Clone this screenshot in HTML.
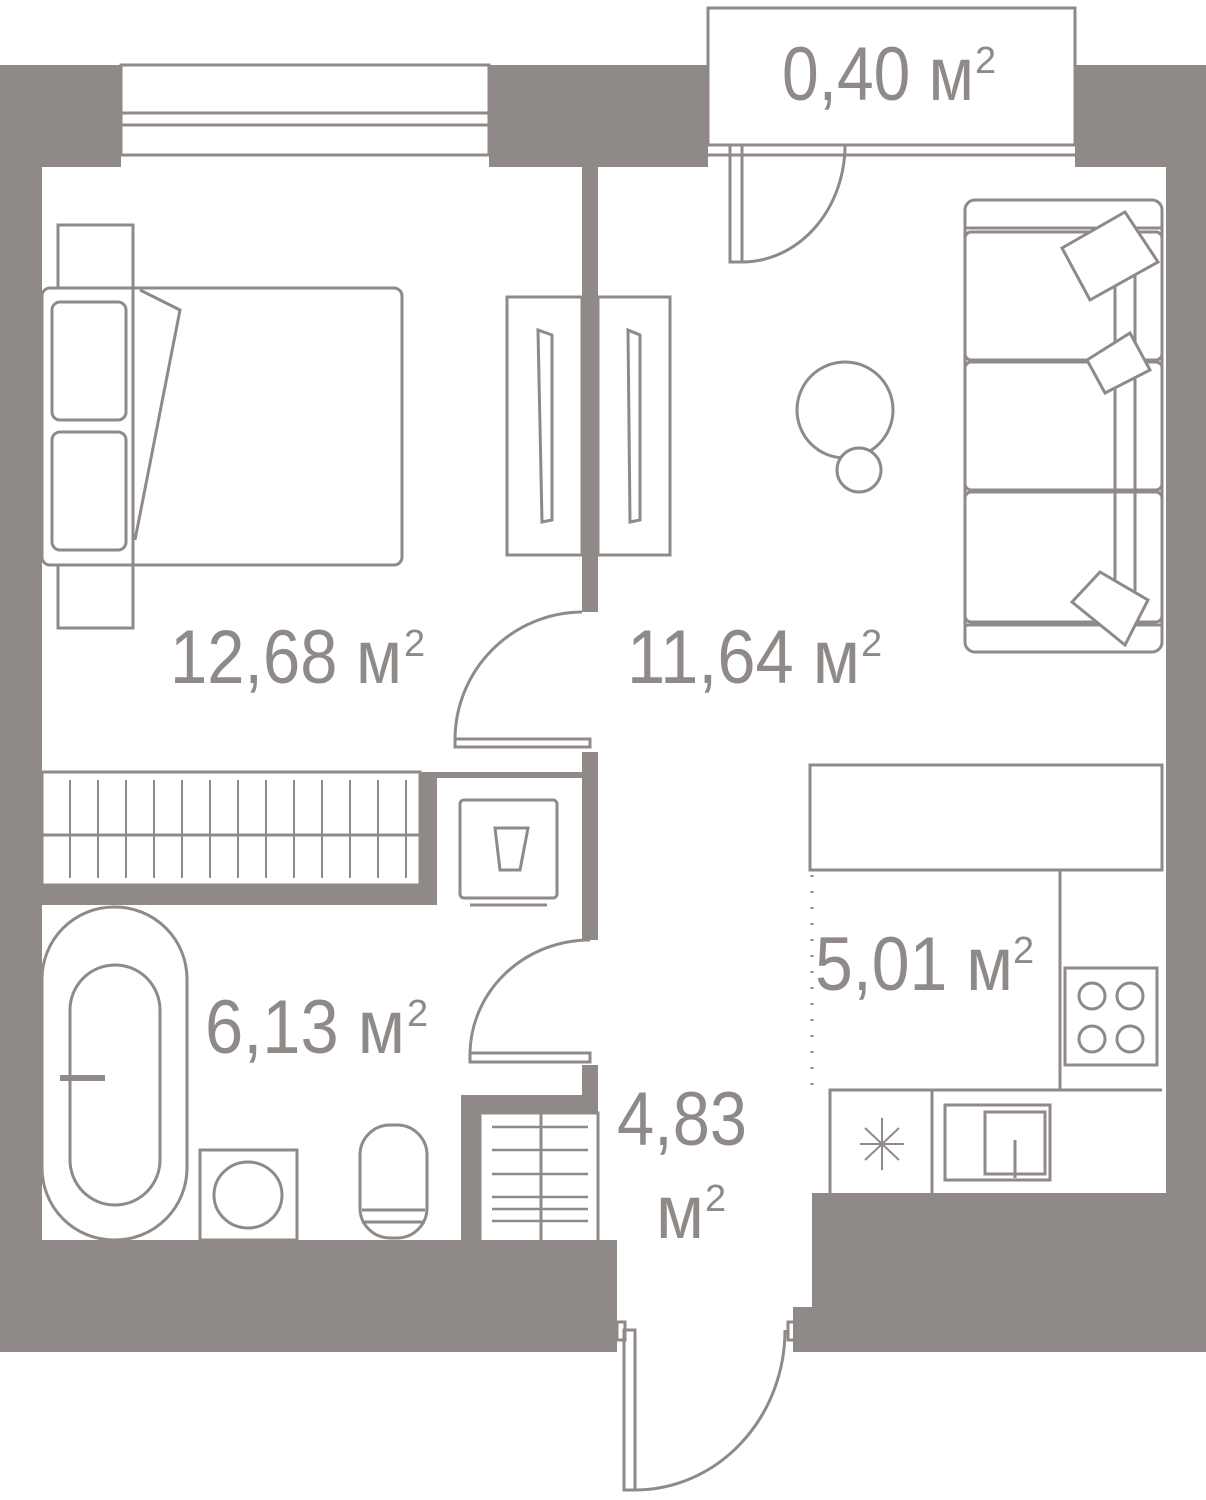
<!DOCTYPE html>
<html><head><meta charset="utf-8"><style>
html,body{margin:0;padding:0;background:#fff}
svg{display:block}
text{font-family:"Liberation Sans",sans-serif;fill:#8f8a87}
</style></head><body>
<svg width="1206" height="1500" viewBox="0 0 1206 1500" xmlns="http://www.w3.org/2000/svg">
<g fill="#8f8a87">
<rect x="0" y="65" width="121" height="102"/>
<rect x="0" y="65" width="42" height="1287"/>
<rect x="489" y="65" width="219" height="102"/>
<rect x="1075" y="65" width="131" height="102"/>
<rect x="1166" y="65" width="40" height="1287"/>
<rect x="0" y="1240" width="617" height="112"/>
<rect x="461" y="1095" width="137" height="18"/>
<rect x="461" y="1095" width="19" height="160"/>
<rect x="480" y="1305" width="137" height="47"/>
<rect x="812" y="1193" width="394" height="159"/>
<rect x="793" y="1307" width="30" height="45"/>
<rect x="582" y="167" width="16" height="445"/>
<rect x="582" y="752" width="16" height="188"/>
<rect x="582" y="1065" width="16" height="30"/>
<rect x="420" y="772" width="162" height="6"/>
<rect x="420" y="772" width="17" height="133"/>
<rect x="42" y="885" width="395" height="20"/>
</g>
<g fill="none" stroke="#8f8a87" stroke-width="3">
<rect x="121" y="65" width="368" height="90"/>
<line x1="121" y1="113" x2="489" y2="113"/>
<line x1="121" y1="125" x2="489" y2="125"/>
<rect x="708" y="8" width="367" height="137"/>
<line x1="708" y1="155" x2="1075" y2="155"/>
<rect x="730" y="145" width="12" height="117"/>
<path d="M742 262 A103 117 0 0 0 845 145"/>
<rect x="58" y="225" width="75" height="403"/>
<rect x="42" y="288" width="360" height="277" rx="8" fill="#fff"/>
<rect x="52" y="302" width="74" height="118" rx="8"/>
<rect x="52" y="432" width="74" height="118" rx="8"/>
<line x1="133" y1="288" x2="133" y2="565"/>
<path d="M140 290 L180 310 L135 540"/>
<rect x="507" y="297" width="75" height="258"/>
<path d="M538 330 L552 335 L552 520 L542 522 Z"/>
<rect x="598" y="297" width="72" height="258"/>
<path d="M628 330 L640 335 L640 520 L630 522 Z"/>
<path d="M582 612 A128 128 0 0 0 455 740"/>
<rect x="455" y="739" width="135" height="8"/>
<rect x="42" y="772" width="378" height="113"/>
<line x1="42" y1="835" x2="420" y2="835"/>
<g stroke-width="2">
<line x1="70" y1="780" x2="70" y2="878"/><line x1="98" y1="780" x2="98" y2="878"/>
<line x1="126" y1="780" x2="126" y2="878"/><line x1="154" y1="780" x2="154" y2="878"/>
<line x1="182" y1="780" x2="182" y2="878"/><line x1="210" y1="780" x2="210" y2="878"/>
<line x1="238" y1="780" x2="238" y2="878"/><line x1="266" y1="780" x2="266" y2="878"/>
<line x1="294" y1="780" x2="294" y2="878"/><line x1="322" y1="780" x2="322" y2="878"/>
<line x1="350" y1="780" x2="350" y2="878"/><line x1="378" y1="780" x2="378" y2="878"/>
<line x1="406" y1="780" x2="406" y2="878"/>
</g>
<rect x="460" y="800" width="97" height="98" rx="4"/>
<line x1="470" y1="905" x2="547" y2="905"/>
<path d="M495 828 L528 828 L520 870 L500 870 Z"/>
<path d="M590 940 A120 115 0 0 0 470 1055"/>
<rect x="470" y="1053" width="120" height="9"/>
<rect x="42" y="907" width="145" height="333" rx="72"/>
<rect x="70" y="965" width="90" height="240" rx="45"/>
<line x1="60" y1="1078" x2="105" y2="1078" stroke-width="6"/>
<rect x="200" y="1150" width="97" height="90"/>
<ellipse cx="248" cy="1195" rx="34" ry="33"/>
<rect x="360" y="1125" width="67" height="113" rx="30"/>
<line x1="362" y1="1210" x2="425" y2="1210"/>
<line x1="362" y1="1222" x2="425" y2="1222"/>
<rect x="480" y="1113" width="118" height="192"/>
<line x1="541" y1="1113" x2="541" y2="1305"/>
<g stroke-width="2.5">
<line x1="492" y1="1127" x2="588" y2="1127"/><line x1="492" y1="1150" x2="588" y2="1150"/>
<line x1="492" y1="1174" x2="588" y2="1174"/><line x1="492" y1="1197" x2="588" y2="1197"/>
<line x1="492" y1="1209" x2="588" y2="1209"/><line x1="492" y1="1221" x2="588" y2="1221"/>
<line x1="492" y1="1245" x2="588" y2="1245"/><line x1="492" y1="1260" x2="588" y2="1260"/>
<line x1="492" y1="1283" x2="588" y2="1283"/><line x1="492" y1="1295" x2="588" y2="1295"/>
</g>
<rect x="617" y="1322" width="8" height="18"/>
<rect x="788" y="1322" width="8" height="18"/>
<rect x="624" y="1330" width="11" height="160"/>
<path d="M635 1490 A150 160 0 0 0 785 1330"/>
<rect x="965" y="200" width="197" height="452" rx="10"/>
<line x1="965" y1="228" x2="1162" y2="228"/>
<line x1="965" y1="625" x2="1162" y2="625"/>
<rect x="965" y="232" width="197" height="128" rx="6"/>
<rect x="965" y="362" width="197" height="128" rx="6"/>
<rect x="965" y="492" width="197" height="130" rx="6"/>
<line x1="1115" y1="232" x2="1115" y2="622"/>
<line x1="1135" y1="232" x2="1135" y2="622"/>
<path d="M1062 248 L1125 212 L1158 262 L1090 300 Z" fill="#fff"/>
<path d="M1087 360 L1130 333 L1150 370 L1105 393 Z" fill="#fff"/>
<path d="M1072 602 L1100 572 L1148 600 L1125 645 Z" fill="#fff"/>
<circle cx="845" cy="410" r="48" fill="#fff"/>
<circle cx="859" cy="470" r="22" fill="#fff"/>
<rect x="810" y="765" width="352" height="105"/>
<line x1="812" y1="875" x2="812" y2="1090" stroke-dasharray="2 14"/>
<polyline points="812,870 1060,870 1060,1090 830,1090 830,1193"/>
<rect x="1065" y="968" width="92" height="97"/>
<circle cx="1092" cy="996" r="13"/><circle cx="1130" cy="996" r="13"/>
<circle cx="1092" cy="1039" r="13"/><circle cx="1130" cy="1039" r="13"/>
<line x1="830" y1="1090" x2="1162" y2="1090"/>
<line x1="932" y1="1090" x2="932" y2="1193"/>
<rect x="945" y="1105" width="105" height="75"/>
<rect x="985" y="1112" width="60" height="62"/>
<line x1="1015" y1="1140" x2="1015" y2="1178"/>
<g stroke-width="2">
<line x1="882" y1="1118" x2="882" y2="1170"/>
<line x1="860" y1="1144" x2="904" y2="1144"/>
<line x1="865" y1="1128" x2="899" y2="1160"/>
<line x1="899" y1="1128" x2="865" y2="1160"/>
</g>
</g>
<text x="782" y="100" font-size="76" textLength="192" lengthAdjust="spacingAndGlyphs">0,40 м</text>
<text x="975" y="73" font-size="38">2</text>
<text x="170" y="683" font-size="76" textLength="232" lengthAdjust="spacingAndGlyphs">12,68 м</text>
<text x="404" y="656" font-size="38">2</text>
<text x="627" y="683" font-size="76" textLength="233" lengthAdjust="spacingAndGlyphs">11,64 м</text>
<text x="861" y="656" font-size="38">2</text>
<text x="205" y="1053" font-size="76" textLength="200" lengthAdjust="spacingAndGlyphs">6,13 м</text>
<text x="407" y="1026" font-size="38">2</text>
<text x="815" y="990" font-size="76" textLength="198" lengthAdjust="spacingAndGlyphs">5,01 м</text>
<text x="1013" y="963" font-size="38">2</text>
<text x="617" y="1145" font-size="76" textLength="130" lengthAdjust="spacingAndGlyphs">4,83</text>
<text x="656" y="1238" font-size="76" textLength="48" lengthAdjust="spacingAndGlyphs">м</text>
<text x="705" y="1211" font-size="38">2</text>
</svg>
</body></html>
